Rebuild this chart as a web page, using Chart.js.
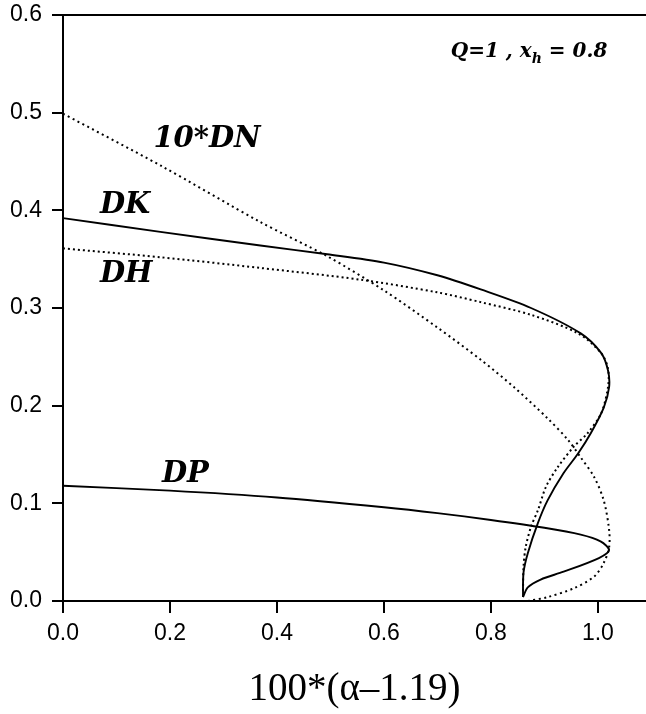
<!DOCTYPE html>
<html>
<head>
<meta charset="utf-8">
<title>DK DH DP DN</title>
<script src="https://cdn.jsdelivr.net/npm/chart.js@4/dist/chart.umd.min.js"></script>
<style>
	html, body { margin: 0; padding: 0; background: #ffffff; }
	.chart-wrap { position: relative; width: 646px; height: 714px; }
</style>
</head>
<body>
<div class="chart-wrap"><canvas id="chartMain"></canvas></div>
<script>
// curve DK (solid)
const dkX = [0, 0.182, 0.369, 0.494, 0.6, 0.7, 0.781, 0.875, 0.968, 1.006, 1.019, 1.021, 1.011, 0.987, 0.963, 0.936, 0.906, 0.888, 0.869, 0.861, 0.860];
const dkY = [0.392, 0.378, 0.364, 0.355, 0.3465, 0.3335, 0.319, 0.300, 0.274, 0.254, 0.236, 0.219, 0.198, 0.172, 0.151, 0.131, 0.103, 0.080, 0.049, 0.029, 0.004];

// curve DH (dotted)
const dhX = [0, 0.182, 0.369, 0.556, 0.7, 0.781, 0.875, 0.963, 1.006, 1.019, 1.019, 1.006, 0.981, 0.955, 0.925, 0.903, 0.888, 0.875, 0.865, 0.861, 0.860];
const dhY = [0.361, 0.352, 0.341, 0.329, 0.316, 0.306, 0.293, 0.274, 0.254, 0.238, 0.219, 0.192, 0.172, 0.158, 0.137, 0.117, 0.093, 0.076, 0.055, 0.035, 0.008];

// curve DP (solid)
const dpX = [0, 0.2, 0.4, 0.6, 0.7, 0.8, 0.9, 0.968, 1.005, 1.021, 1.002, 0.936, 0.893, 0.869, 0.860];
const dpY = [0.118, 0.113, 0.106, 0.096, 0.090, 0.083, 0.075, 0.068, 0.061, 0.052, 0.044, 0.030, 0.022, 0.014, 0.004];

// curve 10*DN (dotted)
const dnX = [0, 0.182, 0.369, 0.494, 0.6, 0.7, 0.781, 0.843, 0.906, 0.944, 0.968, 0.993, 1.011, 1.021, 1.021, 1.011, 0.993, 0.955, 0.906, 0.869];
const dnY = [0.499, 0.446, 0.388, 0.353, 0.318, 0.280, 0.247, 0.219, 0.187, 0.165, 0.147, 0.127, 0.103, 0.073, 0.055, 0.039, 0.025, 0.013, 0.004, 0.0];

const xTicks = [0, 0.2, 0.4, 0.6, 0.8, 1.0];
const yTicks = [0, 0.1, 0.2, 0.3, 0.4, 0.5, 0.6];

// curve names and where they sit
const curveLabels = ['10*DN', 'DK', 'DH', 'DP'];
const curveLabelX = [0.169, 0.069, 0.069, 0.185];
const curveLabelY = [0.465, 0.397, 0.327, 0.122];

const toPoints = function (xs, ys) {
	return xs.map((x, idx) => ({ x: x, y: ys[idx] }));
};

const makeSet = function (name, xs, ys, dash) {
	return {
		label: name,
		data: toPoints(xs, ys),
		showLine: true,
		borderColor: '#000000',
		borderWidth: dash ? 2 : 1.9,
		borderDash: dash || [],
		pointRadius: 0,
		tension: 0.3,
		fill: false
	};
};

const labelFont = 'italic bold 29px "DejaVu Serif", "Liberation Serif", serif';
const noteFont = 'italic bold 20px "DejaVu Serif", serif';
const noteSubFont = 'italic bold 14px "DejaVu Serif", serif';

const textPlugin = {
	id: 'curveText',
	afterDatasetsDraw(chart) {
		const ctx = chart.ctx;
		const sx = chart.scales.x;
		const sy = chart.scales.y;
		ctx.save();
		ctx.fillStyle = '#000000';
		ctx.textBaseline = 'alphabetic';
		ctx.textAlign = 'left';
		ctx.font = labelFont;
		curveLabels.forEach((txt, idx) => {
			ctx.fillText(txt, sx.getPixelForValue(curveLabelX[idx]), sy.getPixelForValue(curveLabelY[idx]));
		});

		// Q=1 , x_h = 0.8
		ctx.font = noteFont;
		let px = sx.getPixelForValue(0.725);
		const py = sy.getPixelForValue(0.557);
		const part1 = 'Q=1 , x';
		ctx.fillText(part1, px, py);
		px += ctx.measureText(part1).width;
		ctx.font = noteSubFont;
		ctx.fillText('h', px, py + 6);
		px += ctx.measureText('h').width;
		ctx.font = noteFont;
		ctx.fillText(' = 0.8', px, py);

		// frame line along the top
		const area = chart.chartArea;
		ctx.strokeStyle = '#000000';
		ctx.lineWidth = 2;
		ctx.beginPath();
		ctx.moveTo(area.left, area.top);
		ctx.lineTo(area.right, area.top);
		ctx.stroke();
		ctx.restore();
	}
};

const chart = new Chart(document.getElementById('chartMain').getContext('2d'), {
	type: 'scatter',
	data: {
		datasets: [
			makeSet('DK', dkX, dkY, null),
			makeSet('DH', dhX, dhY, [2, 3]),
			makeSet('DP', dpX, dpY, null),
			makeSet('10*DN', dnX, dnY, [2, 3.5])
		]
	},
	options: {
		responsive: true,
		maintainAspectRatio: false,
		animation: false,
		layout: {
			padding: { top: 15, right: 0, bottom: 0, left: 0 }
		},
		plugins: {
			legend: { display: false },
			tooltip: { enabled: false }
		},
		scales: {
			x: {
				type: 'linear',
				min: 0,
				max: 1.09,
				afterFit: function (scale) {
					scale.height = 113;
					scale.paddingLeft = 0;
					scale.paddingRight = 0;
				},
				afterBuildTicks: function (scale) { scale.ticks = xTicks.map(v => ({ value: v })); },
				ticks: {
					color: '#000000',
					padding: 7,
					maxRotation: 0,
					font: { family: '"Liberation Sans", Arial, sans-serif', size: 23 },
					callback: v => v.toFixed(1)
				},
				grid: {
					drawOnChartArea: false,
					drawTicks: true,
					tickLength: 12,
					color: '#000000',
					lineWidth: 2
				},
				border: { display: true, color: '#000000', width: 2 },
				title: {
					display: true,
					text: '100*(α–1.19)',
					color: '#000000',
					padding: { top: 0, bottom: 1 },
					font: { family: '"Liberation Serif", "Times New Roman", serif', size: 39 }
				}
			},
			y: {
				type: 'linear',
				min: 0,
				max: 0.6,
				afterFit: function (scale) {
					scale.width = 63;
					scale.paddingTop = 0;
					scale.paddingBottom = 0;
				},
				afterBuildTicks: function (scale) { scale.ticks = yTicks.map(v => ({ value: v })); },
				ticks: {
					color: '#000000',
					padding: 10,
					font: { family: '"Liberation Sans", Arial, sans-serif', size: 23 },
					callback: v => v.toFixed(1)
				},
				grid: {
					drawOnChartArea: false,
					drawTicks: true,
					tickLength: 11,
					color: '#000000',
					lineWidth: 2
				},
				border: { display: true, color: '#000000', width: 2 }
			}
		}
	},
	plugins: [ textPlugin ]
});
</script>
</body>
</html>
